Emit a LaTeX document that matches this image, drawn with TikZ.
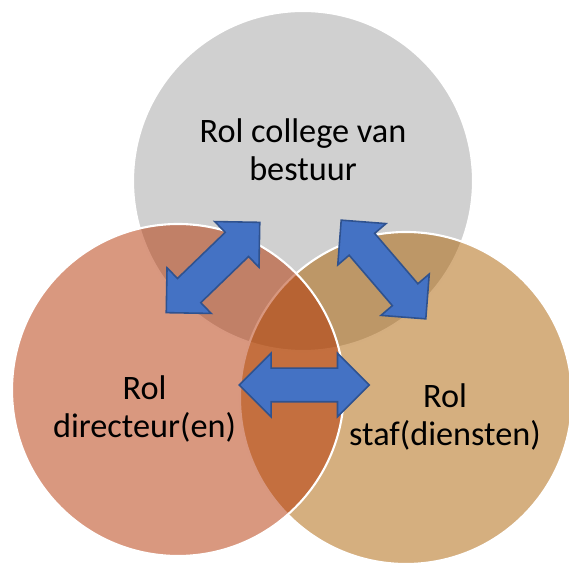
\documentclass[tikz,border=0pt]{standalone}
\usepackage{fontspec}
\setmainfont{Carlito}
\usepackage{tikz}
\usetikzlibrary{shapes.arrows}
\usepackage{xcolor}
\definecolor{rlgray}{RGB}{208,208,208}
\definecolor{rlrust}{RGB}{179,49,0}
\definecolor{rltan}{RGB}{171,95,0}
\definecolor{rlblue}{RGB}{68,114,196}
\definecolor{rledge}{RGB}{47,82,143}
\tikzset{
  rolering/.style={circle,draw=white,line width=1.2pt,inner sep=0pt,minimum size=6.64cm},
  rolelabel/.style={align=center,font=\fontsize{19.5}{21.8}\selectfont,text=black},
  linkarrow/.style={double arrow,draw=rledge,line width=0.9pt,fill=rlblue,
    inner xsep=0pt,inner ysep=0.32cm,minimum height=2.6cm,double arrow head extend=0.3cm}
}

\begin{document}
\begin{tikzpicture}
  \useasboundingbox (0,0) rectangle (11.38,11.26);
  \clip (0,0) rectangle (11.38,11.26);
  \node[rolering,fill=rlgray,minimum size=6.8cm] (cvb) at (6.06,7.64) {};
  \node[rolering,fill=rltan,fill opacity=0.5] (staf) at (8.12,3.30) {};
  \node[rolering,fill=rlrust,fill opacity=0.5] (dir) at (3.56,3.46) {};
  \node[linkarrow,rotate=44] (cvbdir) at (4.26,5.91) {};
  \node[linkarrow,rotate=130.6] (cvbstaf) at (7.67,5.87) {};
  \node[linkarrow] (dirstaf) at (6.085,3.56) {};
  \node[rolelabel] (cvbtxt) at (6.06,8.26) {Rol college van\\bestuur};
  \node[rolelabel] (dirtxt) at (2.89,3.08) {Rol\\directeur(en)};
  \node[rolelabel] (staftxt) at (8.90,2.92) {Rol\\staf(diensten)};
\end{tikzpicture}
\end{document}
